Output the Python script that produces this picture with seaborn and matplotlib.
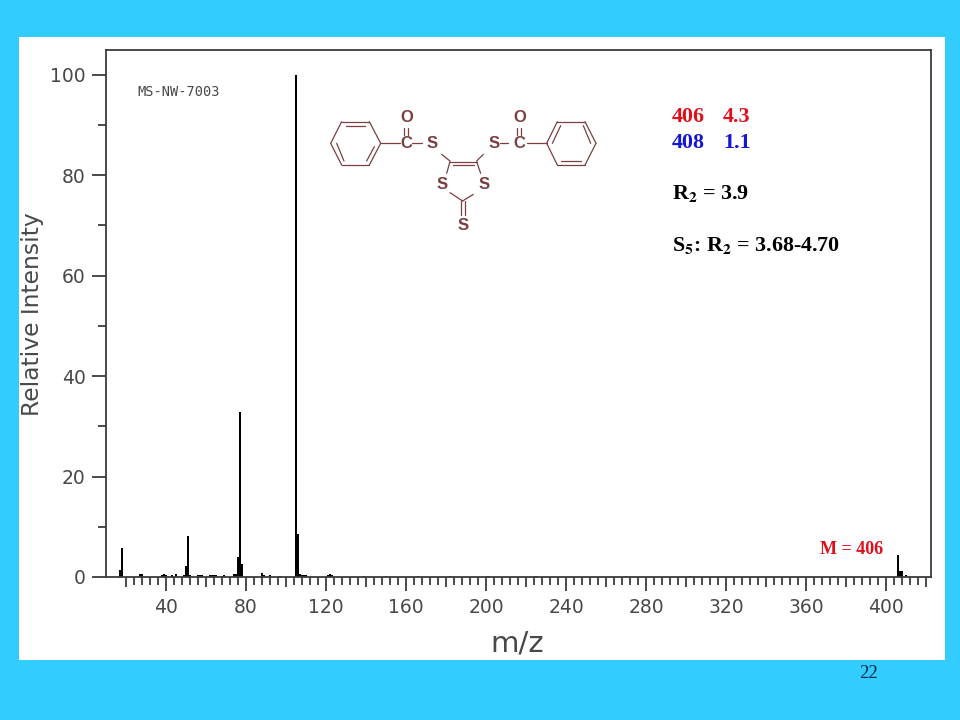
import matplotlib
matplotlib.use("Agg")
import matplotlib.pyplot as plt
from matplotlib.patches import Rectangle
import seaborn as sns
import pandas as pd
import numpy as np

# --- spectrum data ---
mz = [17, 18, 27, 28, 38, 39, 40, 43, 45, 49, 50, 51, 52, 56, 57, 58, 62, 63, 64, 65, 68, 69,
      74, 75, 76, 77, 78, 88, 89, 92, 97, 105, 106, 107, 108, 109, 110, 121, 122, 123,
      139, 150, 166, 182, 201, 225, 270, 302, 374, 406, 407, 408, 410]
intensity = [1.3, 5.8, 0.5, 0.6, 0.4, 0.6, 0.3, 0.4, 0.6, 0.4, 2.2, 8.2, 0.4, 0.3, 0.3, 0.3, 0.3, 0.3, 0.3, 0.3, 0.2, 0.3,
             0.5, 0.6, 4.0, 32.8, 2.5, 0.7, 0.3, 0.3, 0.2, 100.0, 8.5, 0.5, 0.4, 0.4, 0.4, 0.4, 0.5, 0.3,
             0.2, 0.1, 0.15, 0.15, 0.15, 0.15, 0.15, 0.15, 0.2, 4.3, 1.1, 1.1, 0.4]
x_label = "m/z"
y_label = "Relative Intensity"
sample_id = "MS-NW-7003"
molecular_ion = "M = 406"
slide_number = "22"

BLUE = "#33CCFF"
AXC = "#3c3c3c"
MOL = "#7a3f42"
TXT = "#484848"

sns.set_theme(style="ticks", rc={"font.family": ["DejaVu Sans"]})
fig = plt.figure(figsize=(9.6, 7.2), dpi=100, facecolor=BLUE)
W, H = 960, 720
fig.add_artist(Rectangle((19 / W, 1 - 660 / H), 926 / W, 623 / H, transform=fig.transFigure,
                         facecolor="white", edgecolor="none", zorder=-5))

ax = fig.add_axes([106 / W, 1 - 577 / H, (930.5 - 106) / W, (577 - 50) / H], facecolor="white")
df = pd.DataFrame({"mz": mz, "intensity": intensity})
sns.barplot(data=df, x="mz", y="intensity", native_scale=True, width=0.65, color="black",
            saturation=1, linewidth=0, errorbar=None, ax=ax)
ax.set_xlim(10, 422.25)
ax.set_ylim(0, 104.9)
for s in ax.spines.values():
    s.set_color(AXC)
    s.set_linewidth(1.3)

ax.set_xticks(np.arange(40, 401, 40))
ax.set_xticks(np.arange(20, 421, 4), minor=True)
ax.set_yticks(np.arange(0, 101, 20))
ax.set_yticks(np.arange(10, 100, 20), minor=True)
ax.tick_params(axis="both", which="major", length=10, width=1.3, color=AXC, labelcolor=TXT,
               labelsize=13.5)
ax.tick_params(axis="x", which="major", pad=5)
ax.tick_params(axis="y", which="major", pad=4.5)
ax.tick_params(axis="both", which="minor", length=5.5, width=1.3, color=AXC)
for t, loc in zip(ax.xaxis.get_minor_ticks(), ax.xaxis.get_minorticklocs()):
    if round(loc) % 20 == 0:
        t.tick1line.set_markersize(7.5)
ax.set_xlabel("")
ax.set_ylabel("")

# --- overlay in pixel coordinates for text and the structure drawing ---
ov = fig.add_axes([0, 0, 1, 1], facecolor="none")
ov.set_xlim(0, W)
ov.set_ylim(H, 0)
ov.axis("off")

ov.text(517, 644, x_label, ha="center", va="center", fontsize=21, color=TXT)
ov.text(33, 314, y_label, ha="center", va="center", rotation=90, fontsize=16.8, color=TXT)
ov.text(178.5, 92.5, sample_id, ha="center", va="center", fontsize=9.8, color=TXT, family=["DejaVu Sans Mono"])

serif = ["Liberation Serif"]
FS = 15.8
ov.text(672, 117, "406", color="#e0101a", family=serif, weight="bold", fontsize=FS, va="center")
ov.text(723, 117, "4.3", color="#e0101a", family=serif, weight="bold", fontsize=FS, va="center")
ov.text(672, 143, "408", color="#1414d8", family=serif, weight="bold", fontsize=FS, va="center")
ov.text(723, 143, "1.1", color="#1414d8", family=serif, weight="bold", fontsize=FS, va="center")
ov.text(672, 193.5, r"R$_{\mathbf{2}}$ = 3.9", color="black", family=serif, weight="bold", fontsize=FS,
        va="center", math_fontfamily="stix")
ov.text(672, 245.5, r"S$_{\mathbf{5}}$: R$_{\mathbf{2}}$ = 3.68-4.70", color="black", family=serif, weight="bold",
        fontsize=FS, va="center", math_fontfamily="stix")
ov.text(852, 550, molecular_ion, color="#e0101a", family=serif, weight="bold", fontsize=13,
        ha="center", va="center")
ov.text(868, 674, slide_number, color="#0a2a4a", family=serif, fontsize=13.5, ha="center", va="center")


def zx(v):
    return 320 + v / 3


def zy(v):
    return 95 + v / 3


bonds = [
    # left phenyl ring
    (32, 145, 65, 80), (65, 80, 148, 80), (148, 80, 182, 145), (182, 145, 148, 210), (148, 210, 65, 210), (65, 210, 32, 145),
    (78, 92, 135, 92), (50, 145, 72, 198), (163, 155, 140, 198),
    # right phenyl ring
    (680, 145, 712, 80), (712, 80, 795, 80), (795, 80, 828, 145), (828, 145, 795, 210), (795, 210, 712, 210), (712, 210, 680, 145),
    (697, 145, 722, 92), (722, 198, 782, 198), (790, 92, 812, 145),
    # carbonyl links
    (182, 145, 240, 145), (275, 145, 305, 145), (540, 145, 565, 145), (620, 145, 680, 145),
    (253, 100, 253, 120), (265, 100, 265, 120), (592, 100, 592, 120), (604, 100, 604, 120),
    # dithiole ring
    (365, 178, 390, 198), (490, 178, 470, 198), (390, 200, 470, 200), (398, 211, 462, 211),
    (390, 200, 380, 235), (470, 200, 482, 235), (390, 293, 428, 318), (428, 318, 460, 298),
    (423, 318, 423, 360), (435, 318, 435, 360),
]
for x0, y0, x1, y1 in bonds:
    ov.plot([zx(x0), zx(x1)], [zy(y0), zy(y1)], color=MOL, lw=0.9, solid_capstyle="round")
atoms = [("O", 260, 67), ("C", 258, 145), ("S", 335, 145), ("O", 598, 67), ("C", 597, 145), ("S", 521, 145),
         ("S", 366, 268), ("S", 492, 268), ("S", 429, 392)]
for a, x0, y0 in atoms:
    ov.text(zx(x0), zy(y0), a, color=MOL, fontsize=12, weight="bold", family=["Liberation Sans"],
            ha="center", va="center")

fig.savefig("out.png", dpi=100, facecolor=BLUE)
